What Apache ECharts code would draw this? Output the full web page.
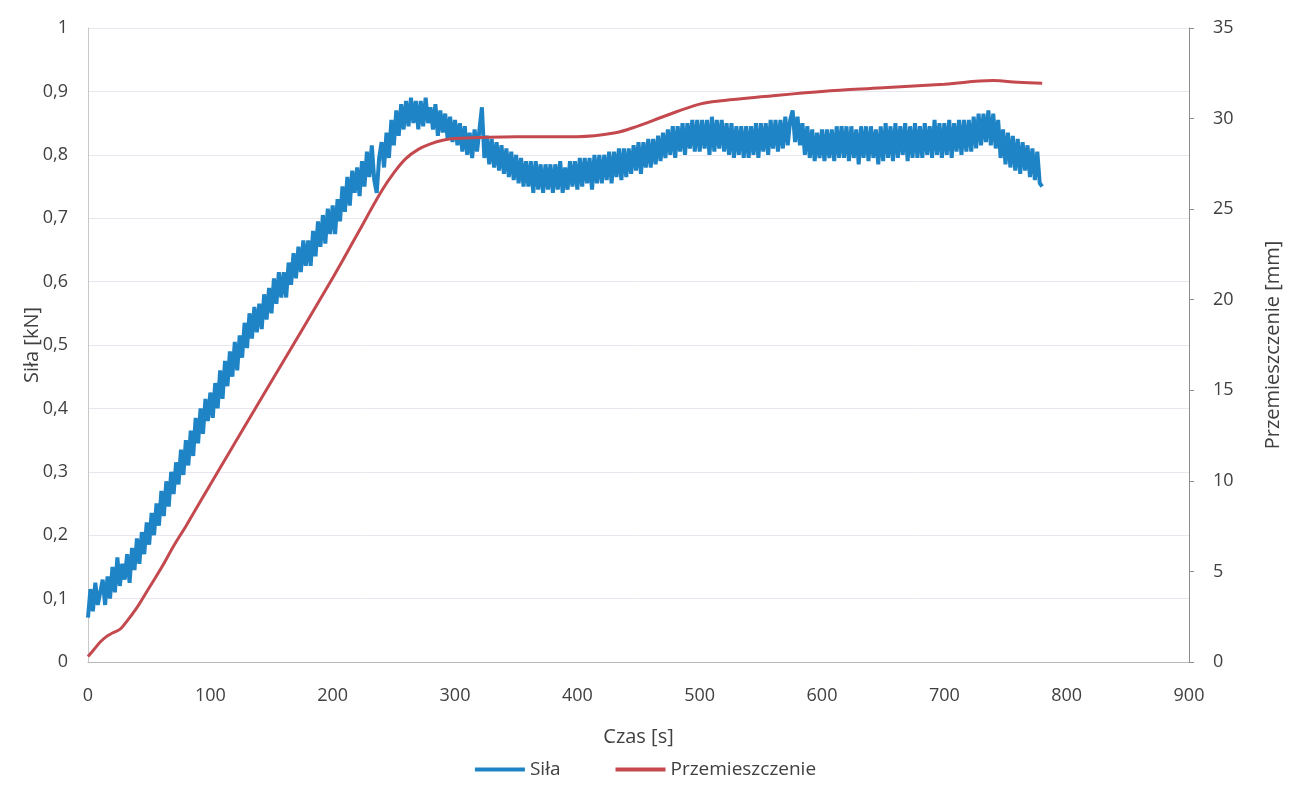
<!DOCTYPE html>
<html>
<head>
<meta charset="utf-8">
<script src="https://cdn.jsdelivr.net/npm/echarts@6/dist/echarts.min.js"></script>
<style>
html,body{margin:0;padding:0;background:#fff;}
#chart{width:1291px;height:807px;}
</style>
</head>
<body>
<div id="chart"></div>
<script>
// Time step for the force series (s)
const forceStart = 0;
const forceStep = 2;
// Siła [kN], sampled every 2 s from 0 s
const forceValues = [
0.07,0.115,0.08,0.125,0.09,0.11,0.13,0.09,0.135,0.1,
0.15,0.11,0.165,0.12,0.155,0.13,0.17,0.125,0.18,0.145,
0.195,0.155,0.205,0.17,0.22,0.185,0.235,0.2,0.25,0.215,
0.27,0.23,0.285,0.245,0.3,0.265,0.315,0.28,0.335,0.295,
0.35,0.31,0.365,0.325,0.385,0.345,0.4,0.36,0.415,0.38,
0.425,0.385,0.44,0.4,0.46,0.415,0.475,0.435,0.49,0.45,
0.505,0.46,0.515,0.48,0.535,0.495,0.55,0.51,0.56,0.52,
0.565,0.525,0.58,0.54,0.59,0.55,0.605,0.565,0.615,0.575,
0.615,0.575,0.63,0.595,0.645,0.605,0.655,0.615,0.665,0.625,
0.665,0.625,0.68,0.64,0.695,0.655,0.705,0.66,0.715,0.675,
0.72,0.675,0.73,0.695,0.75,0.71,0.765,0.72,0.775,0.74,
0.78,0.735,0.79,0.75,0.805,0.765,0.815,0.76,0.74,0.795,
0.82,0.78,0.835,0.795,0.855,0.815,0.87,0.83,0.88,0.84,
0.885,0.845,0.89,0.85,0.885,0.84,0.885,0.845,0.89,0.85,
0.875,0.84,0.88,0.83,0.87,0.835,0.865,0.825,0.86,0.82,
0.855,0.815,0.85,0.805,0.845,0.8,0.835,0.795,0.84,0.805,
0.84,0.875,0.795,0.83,0.785,0.825,0.78,0.82,0.775,0.815,
0.77,0.81,0.765,0.805,0.76,0.8,0.755,0.795,0.75,0.79,
0.75,0.79,0.74,0.79,0.745,0.785,0.74,0.785,0.745,0.785,
0.74,0.785,0.745,0.79,0.74,0.78,0.745,0.79,0.75,0.79,
0.745,0.795,0.75,0.795,0.755,0.795,0.745,0.8,0.755,0.8,
0.755,0.8,0.76,0.805,0.755,0.805,0.765,0.81,0.76,0.81,
0.765,0.81,0.77,0.815,0.775,0.82,0.77,0.82,0.78,0.825,
0.78,0.825,0.785,0.83,0.79,0.835,0.795,0.84,0.8,0.845,
0.795,0.845,0.805,0.85,0.8,0.85,0.81,0.855,0.805,0.855,
0.805,0.855,0.81,0.855,0.8,0.86,0.805,0.855,0.81,0.855,
0.805,0.85,0.8,0.85,0.795,0.845,0.8,0.845,0.795,0.845,
0.795,0.845,0.8,0.85,0.795,0.85,0.805,0.85,0.8,0.855,
0.81,0.855,0.805,0.855,0.81,0.86,0.815,0.855,0.87,0.82,
0.86,0.815,0.85,0.8,0.845,0.795,0.84,0.79,0.835,0.795,
0.84,0.79,0.84,0.795,0.84,0.79,0.845,0.795,0.845,0.795,
0.845,0.79,0.845,0.795,0.84,0.785,0.845,0.795,0.845,0.79,
0.845,0.795,0.84,0.785,0.845,0.79,0.85,0.795,0.845,0.79,
0.85,0.795,0.845,0.8,0.85,0.79,0.845,0.795,0.85,0.795,
0.845,0.795,0.85,0.8,0.845,0.795,0.855,0.8,0.85,0.795,
0.85,0.8,0.855,0.795,0.85,0.805,0.855,0.8,0.855,0.805,
0.855,0.805,0.86,0.81,0.865,0.815,0.865,0.82,0.87,0.815,
0.865,0.81,0.855,0.795,0.84,0.785,0.835,0.78,0.83,0.775,
0.825,0.77,0.82,0.775,0.815,0.765,0.81,0.76,0.805,0.755,
0.75
];
// Przemieszczenie [mm]: time (s) and value
const dispTimes  = [0, 5, 10, 15, 20, 26, 30, 40, 50, 60, 70, 80, 100, 150, 200, 220, 240, 250, 260, 270, 280, 290, 300, 350, 400, 430, 450, 470, 500, 520, 550, 600, 650, 700, 740, 760, 780];
const dispValues = [0.3, 0.7, 1.1, 1.4, 1.6, 1.8, 2.1, 3.0, 4.1, 5.2, 6.4, 7.5, 9.8, 15.5, 21.2, 23.6, 26.0, 27.0, 27.8, 28.3, 28.6, 28.8, 28.9, 29.0, 29.0, 29.2, 29.6, 30.1, 30.8, 31.0, 31.2, 31.5, 31.7, 31.9, 32.1, 32.0, 31.95];
// Axis ticks
const xTicks = [0, 900, 100];
const leftTicks = [0, 1, 0.1];
const rightTicks = [0, 35, 5];

const forceData = forceValues.map((v, i) => [forceStart + i * forceStep, v]);
const dispData = dispTimes.map((t, i) => [t, dispValues[i]]);

const txt = '#404040';
const font = 'Open Sans';
const chart = echarts.init(document.getElementById('chart'));
chart.setOption({
  animation: false,
  backgroundColor: '#fff',
  textStyle: { fontFamily: font },
  grid: { left: 88, right: 93, top: 28, bottom: 145 },
  legend: {
    bottom: 23, left: 'center',
    itemWidth: 50, itemHeight: 4, itemGap: 55,
    icon: 'rect',
    textStyle: { fontFamily: font, fontSize: 19, color: txt },
    data: ['Siła', 'Przemieszczenie']
  },
  xAxis: {
    type: 'value', min: xTicks[0], max: xTicks[1], interval: xTicks[2],
    name: 'Czas [s]', nameLocation: 'middle', nameGap: 65,
    nameTextStyle: { fontSize: 20, color: txt, fontFamily: font },
    axisLine: { lineStyle: { color: '#b8b8b8', width: 1 } },
    axisTick: { show: false },
    axisLabel: { fontSize: 18, color: txt, margin: 25 },
    splitLine: { show: false }
  },
  yAxis: [{
    type: 'value', min: leftTicks[0], max: leftTicks[1], interval: leftTicks[2],
    name: 'Siła [kN]', nameLocation: 'middle', nameGap: 46, nameRotate: 90,
    nameMoveOverlap: false,
    nameTextStyle: { fontSize: 20, color: txt, fontFamily: font },
    axisLine: { show: true, lineStyle: { color: '#c8c8c8', width: 1 } },
    axisTick: { show: false },
    axisLabel: { fontSize: 18, color: txt, margin: 20,
      formatter: v => String(Math.round(v * 10) / 10).replace('.', ',') },
    splitLine: { lineStyle: { color: '#e8e6ee', width: 1 } }
  }, {
    type: 'value', min: rightTicks[0], max: rightTicks[1], interval: rightTicks[2],
    position: 'right',
    name: 'Przemieszczenie [mm]', nameLocation: 'middle', nameGap: 74, nameRotate: 90,
    nameTextStyle: { fontSize: 20, color: txt, fontFamily: font },
    axisLine: { show: true, lineStyle: { color: '#8c8c8c', width: 1 } },
    axisTick: { show: true, length: 5, lineStyle: { color: '#8c8c8c' } },
    axisLabel: { fontSize: 18, color: txt, margin: 24 },
    splitLine: { show: false }
  }],
  series: [{
    name: 'Siła', type: 'line', yAxisIndex: 0, data: forceData,
    showSymbol: false, symbol: 'none',
    lineStyle: { color: '#1f84c6', width: 4 },
    itemStyle: { color: '#1f84c6' }
  }, {
    name: 'Przemieszczenie', type: 'line', yAxisIndex: 1, data: dispData,
    showSymbol: false, symbol: 'none', smooth: 0.4,
    lineStyle: { color: '#c4494f', width: 3 },
    itemStyle: { color: '#c4494f' }
  }]
});
</script>
</body>
</html>
